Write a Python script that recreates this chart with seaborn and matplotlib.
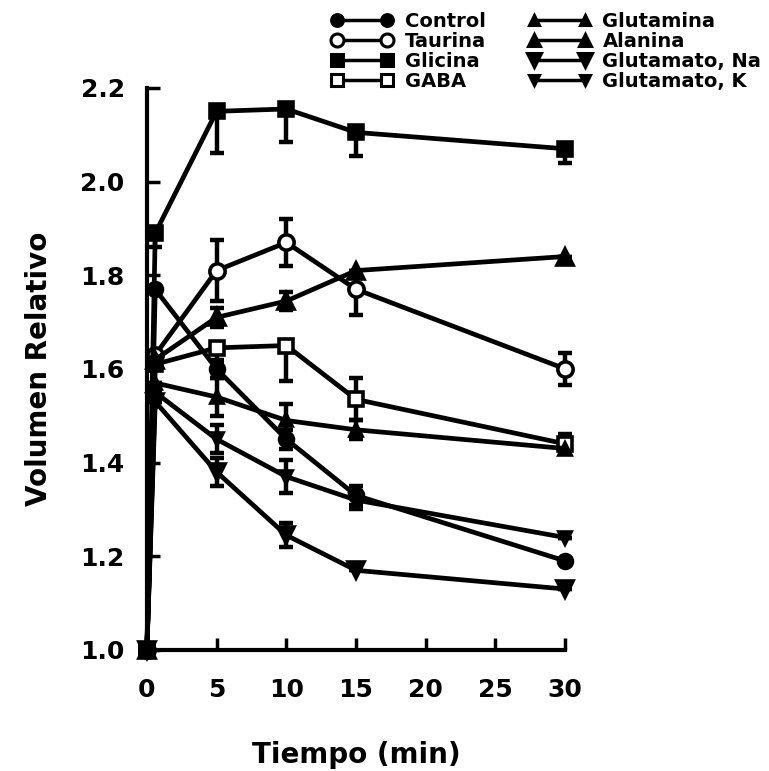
import matplotlib
matplotlib.use("Agg")
import matplotlib.pyplot as plt
import seaborn as sns
import numpy as np
from matplotlib.lines import Line2D

sns.set_theme(style="white")
plt.rcParams['font.family'] = ['DejaVu Sans']
plt.rcParams['text.color'] = 'black'
plt.rcParams['axes.labelcolor'] = 'black'

# ---- data ----
tiempo = [0, 0.6, 5, 10, 15, 30]

control = [1.0, 1.77, 1.60, 1.45, 1.33, 1.19]
taurina = [1.0, 1.63, 1.81, 1.87, 1.77, 1.60]
glicina = [1.0, 1.89, 2.15, 2.155, 2.105, 2.07]
gaba = [1.0, 1.61, 1.645, 1.65, 1.535, 1.44]
glutamina = [1.0, 1.57, 1.54, 1.49, 1.47, 1.43]
alanina = [1.0, 1.62, 1.71, 1.745, 1.81, 1.84]
glut_na = [1.0, 1.53, 1.38, 1.245, 1.17, 1.13]
glut_k = [1.0, 1.55, 1.45, 1.37, 1.32, 1.24]

# error bars: (lower, upper)
err_control = ([0, 0, 0.02, 0.02, 0.02, 0], [0, 0, 0.02, 0.02, 0.02, 0])
err_taurina = ([0, 0, 0.065, 0.05, 0.055, 0.035], [0, 0, 0.065, 0.05, 0.0, 0.035])
err_glicina = ([0, 0.03, 0.09, 0.07, 0.05, 0.03], [0, 0, 0, 0, 0, 0])
err_gaba = ([0, 0, 0.03, 0.075, 0.045, 0.02], [0, 0, 0.0, 0.0, 0.045, 0.02])
err_glutamina = ([0, 0, 0.04, 0.035, 0.02, 0], [0, 0, 0.04, 0.035, 0.02, 0])
err_alanina = ([0, 0, 0.02, 0.02, 0, 0], [0, 0, 0.02, 0.02, 0, 0])
err_glut_na = ([0, 0, 0.03, 0.025, 0, 0], [0, 0, 0.03, 0.025, 0, 0])
err_glut_k = ([0, 0, 0.03, 0.035, 0.02, 0], [0, 0, 0.03, 0.035, 0.02, 0])

labels = ["Control", "Taurina", "Glicina", "GABA",
          "Glutamina", "Alanina", "Glutamato, Na", "Glutamato, K"]
series = [control, taurina, glicina, gaba, glutamina, alanina, glut_na, glut_k]
errors = [err_control, err_taurina, err_glicina, err_gaba,
          err_glutamina, err_alanina, err_glut_na, err_glut_k]
# marker, size, filled
styles = [("o", 10, True), ("o", 11, False), ("s", 10, True), ("s", 10, False),
          ("^", 8, True), ("^", 11, True), ("v", 12, True), ("v", 9, True)]

x_ticks = [0, 5, 10, 15, 20, 25, 30]
y_ticks = [1.0, 1.2, 1.4, 1.6, 1.8, 2.0, 2.2]

fig = plt.figure(figsize=(7.69, 7.71), dpi=100)
ax = fig.add_axes([0.191, 0.157, 0.544, 0.729])

lw = 3.4
handles = []
for lab, vals, err, (m, ms, filled) in zip(labels, series, errors, styles):
    z = 4 if lab == "Glicina" else 3
    ax.errorbar(tiempo, vals, yerr=[err[0], err[1]], fmt="none", ecolor="black",
                elinewidth=3.2, capsize=5, capthick=3.2, zorder=2, clip_on=False)
    sns.lineplot(x=tiempo, y=vals, ax=ax, color="black", linewidth=lw,
                 marker=m, markersize=ms,
                 markerfacecolor="black" if filled else "white",
                 markeredgecolor="black", markeredgewidth=2.6,
                 zorder=z, clip_on=False, legend=False, errorbar=None,
                 estimator=None, sort=False)
    handles.append(Line2D([0], [0], color="black", linewidth=2.5, marker=m,
                          markersize=ms * 0.85,
                          markerfacecolor="black" if filled else "white",
                          markeredgecolor="black", markeredgewidth=2.2))

ax.set_xlim(0, 30)
ax.set_ylim(1.0, 2.2)
ax.set_xticks(x_ticks)
ax.set_yticks(y_ticks)
ax.set_xticklabels([str(v) for v in x_ticks], fontsize=18, fontweight="bold")
ax.set_yticklabels([f"{v:.1f}" for v in y_ticks], fontsize=18, fontweight="bold")
ax.tick_params(axis="both", direction="in", length=9, width=2.5,
               colors="black", labelcolor="black", left=True, bottom=True)
ax.tick_params(axis="y", pad=16)
ax.tick_params(axis="x", pad=20)
for s in ["top", "right"]:
    ax.spines[s].set_visible(False)
for s in ["left", "bottom"]:
    ax.spines[s].set_linewidth(3)
    ax.spines[s].set_color("black")
ax.set_xlabel("Tiempo (min)", fontsize=20, fontweight="bold", labelpad=28,
              color="black")
ax.set_ylabel("Volumen Relativo", fontsize=20, fontweight="bold", labelpad=20,
              color="black")

leg = fig.legend(handles, labels, loc="upper left", bbox_to_anchor=(0.415, 1.0),
                 ncol=2, numpoints=2, handlelength=3.2, handletextpad=0.6,
                 columnspacing=2.2, labelspacing=0.05, frameon=False,
                 prop={"size": 14, "weight": "bold"}, borderaxespad=0.2,
                 labelcolor="black")

fig.savefig("out.png", dpi=100)
